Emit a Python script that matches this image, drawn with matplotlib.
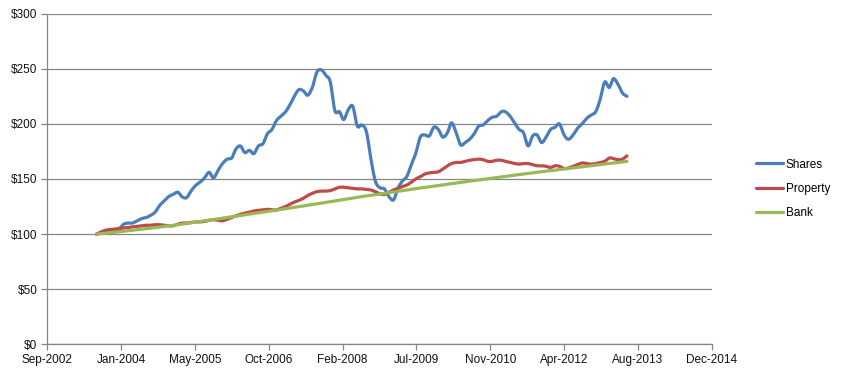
import numpy as np
import pandas as pd
import matplotlib
matplotlib.use('Agg')
import matplotlib.pyplot as plt
import matplotlib.dates as mdates

# monthly values, Aug-2003 .. Jun-2013
dates = pd.date_range('2003-08-01', periods=119, freq='MS')

shares = [100, 101, 102, 104, 104, 105, 109, 110, 110, 112,
          114, 115, 117, 120, 126, 130, 134, 136, 138, 134,
          133, 139, 144, 147, 151, 156, 151, 158, 164, 168,
          169, 177, 180, 174, 176, 173, 180, 182, 191, 195,
          203, 207, 211, 217, 225, 231, 230, 226, 233, 247,
          249, 244, 238, 212, 211, 204, 213, 216, 198, 199,
          193, 168, 148, 142, 141, 134, 131, 141, 148, 152,
          163, 173, 188, 190, 189, 197, 195, 188, 192, 201,
          192, 181, 183, 186, 191, 198, 199, 203, 206, 207,
          211, 211, 207, 201, 195, 192, 180, 189, 190, 183,
          188, 195, 197, 200, 190, 186, 190, 196, 200, 205,
          208, 211, 222, 238, 233, 241, 236, 228, 225]

prop = [100, 102, 103.5, 104, 104.5, 105, 105.5, 106, 106.5, 107,
        107.5, 108, 108, 108.5, 108.5, 108, 107.5, 107.5, 109, 110,
        110, 110.5, 111, 111, 111.5, 112.5, 113, 112.5, 112, 113.5,
        115, 116.5, 118, 119, 120, 121, 121.5, 122, 122.5, 122,
        122, 123.5, 125, 127, 129, 130.5, 132.5, 135, 137, 138.5,
        139, 139, 139.5, 141, 142.5, 142.5, 142, 141.5, 141, 141,
        140.5, 140, 138.5, 136.5, 136, 138, 140, 141.5, 143, 144.5,
        147, 150, 152, 154.5, 155.5, 156, 156.5, 159, 162, 164,
        165, 165, 166, 167, 167.5, 168, 167.5, 166, 166, 167,
        167, 166, 165, 164, 163.5, 164, 164, 163, 162, 162,
        161.5, 160.5, 162, 161.5, 159.5, 160, 161.5, 163, 164.5, 164,
        163.5, 164, 165, 166, 169, 168.5, 167.5, 168, 171]

bank = [100.0, 100.4, 100.8, 101.2, 101.7, 102.1, 102.6, 103.0, 103.5, 104.0,
        104.4, 104.9, 105.4, 105.9, 106.4, 106.9, 107.4, 108.0, 108.5, 109.0,
        109.6, 110.2, 110.8, 111.4, 112.0, 112.6, 113.2, 113.8, 114.4, 115.0,
        115.6, 116.2, 116.8, 117.4, 118.0, 118.6, 119.2, 119.8, 120.5, 121.1,
        121.7, 122.4, 123.0, 123.6, 124.3, 124.9, 125.5, 126.2, 126.8, 127.5,
        128.1, 128.8, 129.4, 130.1, 130.7, 131.4, 132.0, 132.7, 133.3, 134.0,
        134.6, 135.2, 135.8, 136.4, 137.0, 137.6, 138.2, 138.8, 139.4, 140.0,
        140.6, 141.2, 141.8, 142.3, 142.9, 143.5, 144.1, 144.6, 145.2, 145.8,
        146.3, 146.9, 147.5, 148.0, 148.6, 149.1, 149.7, 150.2, 150.8, 151.3,
        151.9, 152.4, 152.9, 153.5, 154.0, 154.5, 155.0, 155.6, 156.1, 156.6,
        157.1, 157.6, 158.1, 158.6, 159.1, 159.6, 160.1, 160.6, 161.1, 161.6,
        162.1, 162.6, 163.1, 163.5, 164.0, 164.5, 165.0, 165.5, 166.0]

labels = ['Shares', 'Property', 'Bank']
colors = ['#4a7ebb', '#be4b48', '#98b954']


# excel style smoothed line (catmull-rom bezier)
def smooth(x, y, n=12):
    x = np.asarray(x, float)
    y = np.asarray(y, float)
    px = np.concatenate([[x[0]], x, [x[-1]]])
    py = np.concatenate([[y[0]], y, [y[-1]]])
    t = np.linspace(0, 1, n, endpoint=False)[:, None]
    x0, x1, x2, x3 = px[:-3], px[1:-2], px[2:-1], px[3:]
    y0, y1, y2, y3 = py[:-3], py[1:-2], py[2:-1], py[3:]
    cx1, cx2 = x1 + (x2 - x0) / 6, x2 - (x3 - x1) / 6
    cy1, cy2 = y1 + (y2 - y0) / 6, y2 - (y3 - y1) / 6
    bx = (1-t)**3*x1 + 3*(1-t)**2*t*cx1 + 3*(1-t)*t**2*cx2 + t**3*x2
    by = (1-t)**3*y1 + 3*(1-t)**2*t*cy1 + 3*(1-t)*t**2*cy2 + t**3*y2
    sx = np.append(bx.T.ravel(), x[-1])
    sy = np.append(by.T.ravel(), y[-1])
    return sx, sy


plt.rcParams['font.family'] = ['Liberation Sans', 'DejaVu Sans']
fig = plt.figure(figsize=(8.47, 3.78), dpi=100)
ax = fig.add_axes([0.0558, 0.0892, 0.7845, 0.8746])

xn = mdates.date2num(dates)
for vals, lab, col in zip([shares, prop, bank], labels, colors):
    sx, sy = smooth(xn, vals)
    ax.plot(sx, sy, color=col, lw=2.3, label=lab, solid_capstyle='round',
            solid_joinstyle='round')

ticks = pd.date_range('2002-09-01', periods=10, freq='500D')
ax.set_xticks(mdates.date2num(ticks))
ax.xaxis.set_major_formatter(mdates.DateFormatter('%b-%Y'))
ax.set_xlim(mdates.date2num(ticks[0]), mdates.date2num(ticks[-1]))
ax.set_ylim(0, 300)
ax.set_yticks(np.arange(0, 301, 50))
ax.yaxis.set_major_formatter(plt.FuncFormatter(lambda v, p: '$%d' % v))

ax.grid(axis='y', color='#868686', lw=0.9)
ax.set_axisbelow(True)
for s in ['top', 'right']:
    ax.spines[s].set_visible(False)
for s in ['left', 'bottom']:
    ax.spines[s].set_color('#868686')
    ax.spines[s].set_linewidth(0.9)
ax.tick_params(length=4, width=0.9, color='#868686', labelsize=8.5,
               labelcolor='#111111', pad=3)

leg = ax.legend(loc='center left', bbox_to_anchor=(756 / 847, 0.5),
                bbox_transform=fig.transFigure, frameon=False, fontsize=8.5,
                handlelength=2.3, handletextpad=0.2, labelspacing=1.05,
                borderpad=0, borderaxespad=0)

fig.savefig('out.png', dpi=100)
